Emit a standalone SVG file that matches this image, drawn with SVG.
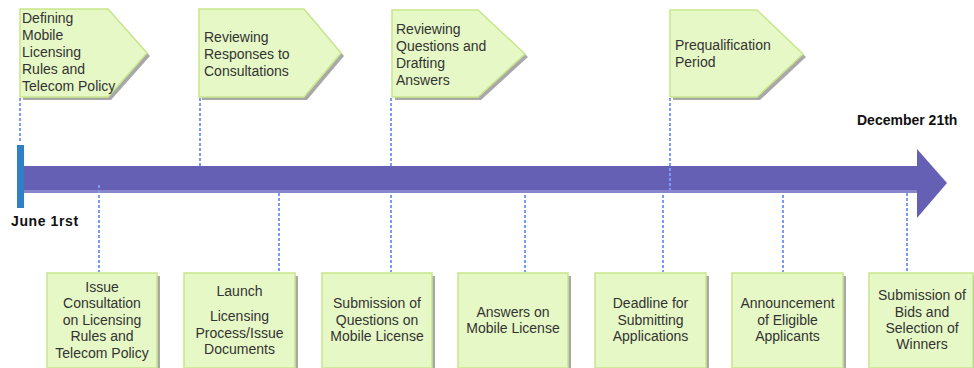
<svg xmlns="http://www.w3.org/2000/svg" width="974" height="368" viewBox="0 0 974 368">
<style>
.box{fill:#e6f8c6;stroke:#c8e68c;stroke-width:1.5}
.sh{fill:#a8a8a8}
.t{font-family:"Liberation Sans",Arial,sans-serif;font-size:14px;fill:#333333}
.c{text-anchor:middle}
.d{stroke:#7a9cf6;stroke-width:2;stroke-dasharray:3 2;fill:none}
.lab{font-family:"Liberation Sans",Arial,sans-serif;font-size:14px;font-weight:bold;fill:#111111}
</style>
<rect width="974" height="368" fill="#ffffff"/>
<g id="connectors">
<line class="d" x1="20" y1="98" x2="20" y2="142"/>
<line class="d" x1="200" y1="98" x2="200" y2="166"/>
<line class="d" x1="391" y1="98" x2="391" y2="166"/>
<line class="d" x1="279" y1="193" x2="279" y2="272"/>
<line class="d" x1="391" y1="190" x2="391" y2="272"/>
<line class="d" x1="525" y1="190" x2="525" y2="272"/>
<line class="d" x1="663" y1="190" x2="663" y2="272"/>
<line class="d" x1="783" y1="190" x2="783" y2="272"/>
<line class="d" x1="907" y1="193" x2="907" y2="272"/>
</g>
<g id="timeline">
<rect x="24" y="166" width="894" height="27" fill="#6660b4"/>
<rect x="24" y="190" width="894" height="3" fill="#8a86cc"/>
<polygon points="917,149 947,183 917,218" fill="#6660b4"/>
<rect x="17" y="145" width="7" height="63" fill="#2f80c6"/>
<text class="lab" x="11" y="226" font-size="15" letter-spacing="0.6">June 1rst</text>
<text class="lab" x="857" y="125">December 21th</text>
</g>
<g id="connectors-over">
<line class="d" x1="670" y1="98" x2="670" y2="190"/>
<line class="d" x1="99" y1="185" x2="99" y2="272"/>
</g>
<g id="phase1">
<polygon class="sh" points="23,12 111,12 150,56 111,100 23,100"/>
<polygon class="box" points="20,9 108,9 147,53 108,97 20,97"/>
<text class="t" x="22" y="23">Defining</text>
<text class="t" x="22" y="40">Mobile</text>
<text class="t" x="22" y="57">Licensing</text>
<text class="t" x="22" y="74">Rules  and</text>
<text class="t" x="22" y="91">Telecom Policy</text>
</g>
<g id="phase2">
<polygon class="sh" points="202,12 307,12 344,56 307,100 202,100"/>
<polygon class="box" points="199,9 304,9 341,53 304,97 199,97"/>
<text class="t" x="204" y="42">Reviewing</text>
<text class="t" x="204" y="59">Responses to</text>
<text class="t" x="204" y="76">Consultations</text>
</g>
<g id="phase3">
<polygon class="sh" points="395,13 481,13 528,57 481,100 395,100"/>
<polygon class="box" points="392,10 478,10 525,54 478,97 392,97"/>
<text class="t" x="396" y="34">Reviewing</text>
<text class="t" x="396" y="51">Questions and</text>
<text class="t" x="396" y="68">Drafting</text>
<text class="t" x="396" y="85">Answers</text>
</g>
<g id="phase4">
<polygon class="sh" points="673,13 760,13 806,57 760,100 673,100"/>
<polygon class="box" points="670,10 757,10 803,54 757,97 670,97"/>
<text class="t" x="675" y="50">Prequalification</text>
<text class="t" x="675" y="67">Period</text>
</g>
<g id="event1">
<rect class="sh" x="50" y="276" width="110" height="95"/>
<rect class="box" x="47" y="273" width="110" height="95"/>
<text class="t c" x="102" y="292">Issue</text>
<text class="t c" x="102" y="308">Consultation</text>
<text class="t c" x="102" y="325">on Licensing</text>
<text class="t c" x="102" y="341">Rules  and</text>
<text class="t c" x="102" y="358">Telecom Policy</text>
</g>
<g id="event2">
<rect class="sh" x="187" y="276" width="111" height="95"/>
<rect class="box" x="184" y="273" width="111" height="95"/>
<text class="t c" x="239.5" y="296">Launch</text>
<text class="t c" x="239.5" y="321">Licensing</text>
<text class="t c" x="239.5" y="338">Process/Issue</text>
<text class="t c" x="239.5" y="354">Documents</text>
</g>
<g id="event3">
<rect class="sh" x="325" y="276" width="110" height="95"/>
<rect class="box" x="322" y="273" width="110" height="95"/>
<text class="t c" x="377" y="308">Submission of</text>
<text class="t c" x="377" y="325">Questions on</text>
<text class="t c" x="377" y="341">Mobile License</text>
</g>
<g id="event4">
<rect class="sh" x="461" y="276" width="110" height="95"/>
<rect class="box" x="458" y="273" width="110" height="95"/>
<text class="t c" x="513" y="317">Answers on</text>
<text class="t c" x="513" y="333">Mobile License</text>
</g>
<g id="event5">
<rect class="sh" x="598" y="276" width="111" height="95"/>
<rect class="box" x="595" y="273" width="111" height="95"/>
<text class="t c" x="650.5" y="308">Deadline for</text>
<text class="t c" x="650.5" y="325">Submitting</text>
<text class="t c" x="650.5" y="341">Applications</text>
</g>
<g id="event6">
<rect class="sh" x="735" y="276" width="111" height="95"/>
<rect class="box" x="732" y="273" width="111" height="95"/>
<text class="t c" x="787.5" y="308">Announcement</text>
<text class="t c" x="787.5" y="325">of Eligible</text>
<text class="t c" x="787.5" y="341">Applicants</text>
</g>
<g id="event7">
<rect class="sh" x="872" y="276" width="105" height="95"/>
<rect class="box" x="869" y="273" width="104" height="95"/>
<text class="t c" x="922" y="300">Submission of</text>
<text class="t c" x="922" y="317">Bids and</text>
<text class="t c" x="922" y="333">Selection of</text>
<text class="t c" x="922" y="349">Winners</text>
</g>
</svg>
